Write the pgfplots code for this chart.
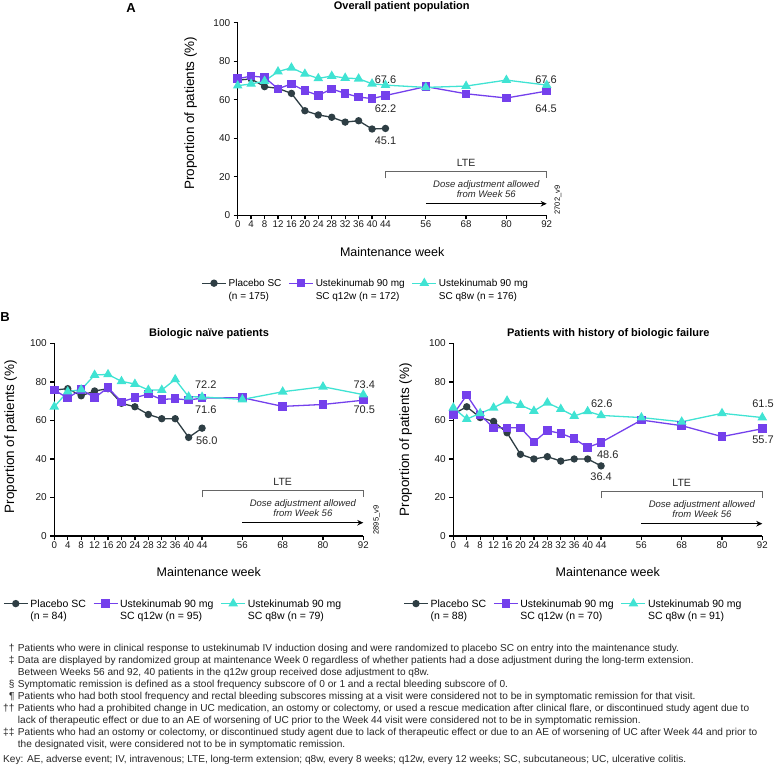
\documentclass[border=0pt]{standalone}
\usepackage{fontspec}
\setmainfont{Liberation Sans}
\usepackage{pgfplots}
\pgfplotsset{compat=1.18}
\usetikzlibrary{arrows.meta}

\definecolor{cplac}{HTML}{2E3E44}
\definecolor{cq12}{HTML}{7440EC}
\definecolor{cq8}{HTML}{40E3D3}
\definecolor{cbr}{HTML}{666666}

\tikzset{ann/.style={font=\fontsize{11}{12}\selectfont, text=black!85}}

\pgfplotsset{
 panel/.style={
  scale only axis, width=309pt, height=192.6pt,
  xmin=0,xmax=92,ymin=0,ymax=100,
  axis x line*=bottom, axis y line*=left,
  axis line style={line width=1.3pt, black},
  xtick={0,4,8,12,16,20,24,28,32,36,40,44,56,68,80,92},
  ytick={0,20,40,60,80,100},
  tick align=outside, major tick length=4pt,
  tick style={line width=1.3pt, black},
  /pgf/number format/assume math mode=true,
  xticklabel style={font=\fontsize{9.7}{10}\selectfont, inner sep=1.5pt, text=black!90},
  yticklabel style={font=\fontsize{10}{11}\selectfont, text=black!90},
  clip=false,
  xlabel={Maintenance week},
  ylabel={Proportion of patients (\%)},
  xlabel style={font=\fontsize{12.5}{14}\selectfont, at={(axis description cs:0.5,-0.189)}, anchor=center},
  ylabel style={font=\fontsize{13.5}{15}\selectfont, anchor=center},
  legend columns=3,
  legend cell align=left,
  legend style={draw=none, fill=none, anchor=north west, cells={anchor=base west},
    /tikz/every even column/.append style={column sep=5pt}},
  legend image code/.code={\draw[mark repeat=2,mark phase=2,##1] plot coordinates {(0pt,3.5pt) (12pt,3.5pt) (24pt,3.5pt)};},
 },
 plac/.style={color=cplac, line width=1.3pt, mark=*, mark size=3pt},
 q12/.style={color=cq12, line width=1.3pt, mark=square*, mark size=3.6pt},
 q8/.style={color=cq8, line width=1.3pt, mark=triangle*, mark size=4.3pt},
}

\newcommand{\lte}[1]{%
  \draw[cbr, line width=1pt] (axis cs:44,#1-3.4) -- (axis cs:44,#1) -- (axis cs:92,#1) -- (axis cs:92,#1-3.4);
  \node[font=\fontsize{10.5}{12}\selectfont, text=black!85] at (axis cs:68,#1+4.8) {LTE};
  \node[font=\itshape\fontsize{9.5}{10.6}\selectfont, align=center, text=black!85] at (axis cs:74,#1-9) {Dose adjustment allowed\\from Week 56};
  \draw[-{Stealth[length=6pt,width=5.5pt]}, line width=1pt] (axis cs:56,#1-16.6) -- (axis cs:92,#1-16.6);
}

\begin{document}
\begin{tikzpicture}
\path[use as bounding box] (0,0) rectangle (775pt,-770pt);

% ---------- Panel A ----------
\node[font=\bfseries\fontsize{13}{14}\selectfont] at (131pt,-8pt) {A};
\node[font=\bfseries\fontsize{11}{12}\selectfont] at (401.7pt,-6.7pt) {Overall patient population};
\begin{axis}[panel, at={(237.7pt,-215.3pt)}, anchor=south west,
  ylabel style={at={(axis description cs:-0.152,0.53)}},
  legend style={at={(axis description cs:-0.128,-0.303)}, font=\fontsize{10}{12.6}\selectfont}]
\addplot[plac] coordinates {(0,70.2) (4,70.8) (8,66.8) (12,65.9) (16,63.3) (20,54.3) (24,52.1) (28,50.9) (32,48.4) (36,49.1) (40,44.8) (44,45.1)};
\addlegendentry{\begin{tabular}[t]{@{}l@{}}Placebo SC\\(n = 175)\end{tabular}}
\addplot[q12] coordinates {(0,70.9) (4,72.3) (8,71.6) (12,65.7) (16,68.2) (20,64.7) (24,62.3) (28,65.6) (32,63.3) (36,61.4) (40,60.6) (44,62.2) (56,66.8) (68,63.1) (80,60.9) (92,64.5)};
\addlegendentry{\begin{tabular}[t]{@{}l@{}}Ustekinumab 90 mg\\SC q12w (n = 172)\end{tabular}}
\addplot[q8] coordinates {(0,67.3) (4,68.2) (8,69.7) (12,74.6) (16,76.6) (20,73.4) (24,71.1) (28,72.3) (32,71.3) (36,70.9) (40,68.3) (44,67.6) (56,66.4) (68,67.1) (80,70.2) (92,67.6)};
\addlegendentry{\begin{tabular}[t]{@{}l@{}}Ustekinumab 90 mg\\SC q8w (n = 176)\end{tabular}}
\node[ann] at (axis cs:44,70.2) {67.6};
\node[ann] at (axis cs:44,55.6) {62.2};
\node[ann] at (axis cs:44,38.7) {45.1};
\node[ann] at (axis cs:91.8,70.2) {67.6};
\node[ann] at (axis cs:91.8,55.6) {64.5};
\lte{22.6}
\node[rotate=90, font=\fontsize{7.5}{8}\selectfont] at (axis cs:95.4,7.9) {2702\_v9};
\end{axis}

% ---------- Panel B ----------
\node[font=\bfseries\fontsize{13}{14}\selectfont] at (5pt,-316.7pt) {B};
\node[font=\bfseries\fontsize{11}{12}\selectfont] at (209pt,-334pt) {Biologic naïve patients};
\node[font=\bfseries\fontsize{11}{12}\selectfont] at (608.3pt,-334pt) {Patients with history of biologic failure};

\begin{axis}[panel, at={(54.3pt,-536pt)}, anchor=south west,
  ylabel style={at={(axis description cs:-0.141,0.516)}},
  legend style={at={(axis description cs:-0.176,-0.303)}, font=\fontsize{10.5}{12.2}\selectfont}]
\addplot[plac] coordinates {(0,75.8) (4,76.5) (8,72.8) (12,75.3) (16,76.5) (20,68.9) (24,67.1) (28,63.1) (32,60.9) (36,60.9) (40,51.2) (44,56.0)};
\addlegendentry{\begin{tabular}[t]{@{}l@{}}Placebo SC\\(n = 84)\end{tabular}}
\addplot[q12] coordinates {(0,75.8) (4,71.6) (8,76.1) (12,71.8) (16,77.0) (20,69.7) (24,71.8) (28,73.7) (32,70.9) (36,71.3) (40,70.6) (44,71.6) (56,71.8) (68,67.3) (80,68.3) (92,70.5)};
\addlegendentry{\begin{tabular}[t]{@{}l@{}}Ustekinumab 90 mg\\SC q12w (n = 95)\end{tabular}}
\addplot[q8] coordinates {(0,67.1) (4,75.0) (8,76.0) (12,83.6) (16,83.9) (20,80.3) (24,78.9) (28,75.8) (32,75.8) (36,81.3) (40,72.3) (44,72.2) (56,70.9) (68,74.9) (80,77.5) (92,73.4)};
\addlegendentry{\begin{tabular}[t]{@{}l@{}}Ustekinumab 90 mg\\SC q8w (n = 79)\end{tabular}}
\node[ann] at (axis cs:45.1,78.4) {72.2};
\node[ann] at (axis cs:45.1,65.7) {71.6};
\node[ann] at (axis cs:45.4,49.3) {56.0};
\node[ann] at (axis cs:92.3,78.4) {73.4};
\node[ann] at (axis cs:92.3,65.7) {70.5};
\lte{23.5}
\node[rotate=90, font=\fontsize{7.5}{8}\selectfont] at (axis cs:96,8.3) {2895\_v9};
\end{axis}

\begin{axis}[panel, at={(453.3pt,-536pt)}, anchor=south west,
  ylabel style={at={(axis description cs:-0.154,0.5)}},
  legend style={at={(axis description cs:-0.172,-0.303)}, font=\fontsize{10.5}{12.2}\selectfont}]
\addplot[plac] coordinates {(0,63.3) (4,67.1) (8,61.5) (12,59.5) (16,53.6) (20,42.4) (24,40.0) (28,41.2) (32,38.9) (36,40.0) (40,40.0) (44,36.4)};
\addlegendentry{\begin{tabular}[t]{@{}l@{}}Placebo SC\\(n = 88)\end{tabular}}
\addplot[q12] coordinates {(0,63.1) (4,73.2) (8,62.8) (12,56.2) (16,56.2) (20,56.2) (24,48.8) (28,54.7) (32,53.3) (36,50.5) (40,46.0) (44,48.6) (56,60.2) (68,57.3) (80,51.6) (92,55.7)};
\addlegendentry{\begin{tabular}[t]{@{}l@{}}Ustekinumab 90 mg\\SC q12w (n = 70)\end{tabular}}
\addplot[q8] coordinates {(0,66.6) (4,60.7) (8,63.7) (12,66.6) (16,70.2) (20,68.0) (24,64.9) (28,69.2) (32,65.9) (36,62.3) (40,64.7) (44,62.6) (56,61.5) (68,59.3) (80,63.7) (92,61.5)};
\addlegendentry{\begin{tabular}[t]{@{}l@{}}Ustekinumab 90 mg\\SC q8w (n = 91)\end{tabular}}
\node[ann] at (axis cs:44.2,68.9) {62.6};
\node[ann] at (axis cs:46,42.4) {48.6};
\node[ann] at (axis cs:44,30.8) {36.4};
\node[ann] at (axis cs:92.2,68.9) {61.5};
\node[ann] at (axis cs:92.2,49.8) {55.7};
\lte{23}
\end{axis}

% ---------- Footnotes ----------
\node[anchor=north west, inner sep=0pt, font=\fontsize{10.1}{12}\selectfont, text=black!85] at (3pt,-643pt) {%
\begin{tabular}{@{}r@{\hspace{3.5pt}}l@{}}
† & Patients who were in clinical response to ustekinumab IV induction dosing and were randomized to placebo SC on entry into the maintenance study.\\
‡ & Data are displayed by randomized group at maintenance Week 0 regardless of whether patients had a dose adjustment during the long-term extension.\\
  & Between Weeks 56 and 92, 40 patients in the q12w group received dose adjustment to q8w.\\
§ & Symptomatic remission is defined as a stool frequency subscore of 0 or 1 and a rectal bleeding subscore of 0.\\
¶ & Patients who had both stool frequency and rectal bleeding subscores missing at a visit were considered not to be in symptomatic remission for that visit.\\
†† & Patients who had a prohibited change in UC medication, an ostomy or colectomy, or used a rescue medication after clinical flare, or discontinued study agent due to\\
  & lack of therapeutic effect or due to an AE of worsening of UC prior to the Week 44 visit were considered not to be in symptomatic remission.\\
‡‡ & Patients who had an ostomy or colectomy, or discontinued study agent due to lack of therapeutic effect or due to an AE of worsening of UC after Week 44 and prior to\\
  & the designated visit, were considered not to be in symptomatic remission.\\[3pt]
\multicolumn{2}{@{}l@{}}{Key: AE, adverse event; IV, intravenous; LTE, long-term extension; q8w, every 8 weeks; q12w, every 12 weeks; SC, subcutaneous; UC, ulcerative colitis.}
\end{tabular}};
\end{tikzpicture}
\end{document}
